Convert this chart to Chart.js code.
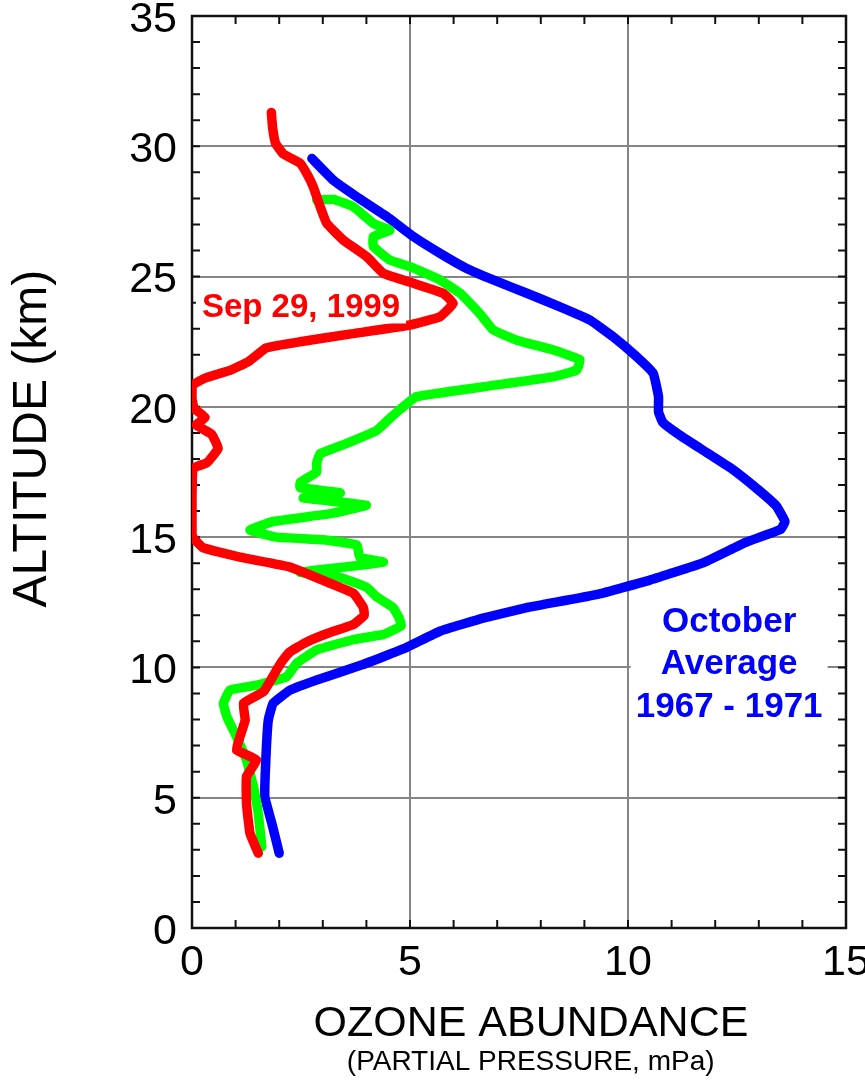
<!DOCTYPE html>
<html>
<head>
<meta charset="utf-8">
<title>Ozone profile</title>
<script src="https://cdn.jsdelivr.net/npm/chart.js@4.4.1/dist/chart.umd.min.js"></script>
<style>
  html, body { margin: 0; padding: 0; background: #fff; }
  #wrap { width: 865px; height: 1081px; position: relative; }
</style>
</head>
<body>
<div id="wrap"><canvas id="chart"></canvas></div>
<script>
// Ozone partial pressure (mPa) against altitude (km).
// Each profile is listed from the top of the sounding down.

const SEP99_OZONE = [1.82, 1.85, 1.92, 2.1, 2.48, 2.65, 2.78, 2.94, 3.09, 3.47, 4.01, 4.39, 5.08, 5.76, 5.99, 5.69, 5.0, 3.65, 2.48, 1.7,
  1.3, 0.9, 0.3, 0.02, 0.0, 0.05, 0.3, 0.1, 0.45, 0.6, 0.34, 0.03, 0.0, 0.0, 0.25, 1.1, 2.25, 3.17, 3.7, 3.93,
  3.95, 3.7, 3.1, 2.6, 2.25, 2.05, 1.94, 1.64, 1.18, 1.22, 1.1, 1.02, 1.48, 1.25, 1.25, 1.33, 1.52];
const SEP99_ALT = [31.3, 30.7, 30.1, 29.7, 29.35, 28.9, 28.45, 27.68, 27.04, 26.4, 25.76, 25.12, 24.74, 24.36, 23.97, 23.46, 23.14, 22.8, 22.5, 22.26,
  21.74, 21.42, 21.1, 20.84, 20.3, 19.94, 19.6, 19.3, 18.95, 18.4, 17.85, 17.65, 16.6, 15.05, 14.6, 14.23, 13.85, 13.23, 12.85, 12.3,
  12.0, 11.65, 11.3, 10.95, 10.6, 10.2, 9.9, 9.07, 8.62, 7.98, 7.34, 6.83, 6.45, 5.81, 4.78, 3.63, 2.87];

const GREEN_OZONE = [2.86, 3.24, 3.7, 4.16, 4.54, 4.16, 4.16, 4.54, 5.0, 5.69, 6.15, 6.6, 6.91, 7.45, 8.29, 8.9, 8.82, 8.28, 6.68, 5.15,
  4.8, 4.5, 4.24, 3.55, 2.94, 2.86, 2.86, 2.48, 2.48, 3.4, 2.55, 4.0, 3.17, 1.86, 1.33, 1.94, 3.0, 3.78, 3.85, 4.39,
  3.47, 2.48, 3.39, 4.0, 4.24, 4.61, 4.75, 4.8, 4.4, 3.7, 2.86, 2.4, 2.17, 1.48, 0.87, 0.72, 0.8, 1.02, 1.25, 1.41,
  1.52, 1.6];
const GREEN_ALT = [27.94, 27.96, 27.68, 27.04, 26.78, 26.53, 26.15, 25.63, 25.38, 24.87, 24.36, 23.58, 22.95, 22.56, 22.18, 21.8, 21.41, 21.15, 20.77, 20.39,
  19.94, 19.5, 19.1, 18.6, 18.2, 17.85, 17.5, 17.1, 16.9, 16.7, 16.5, 16.23, 15.9, 15.6, 15.27, 15.0, 14.9, 14.7, 14.23, 14.04,
  13.85, 13.65, 13.46, 13.08, 12.7, 12.3, 11.9, 11.6, 11.27, 11.07, 10.67, 10.16, 9.64, 9.32, 9.13, 8.62, 8.11, 7.34, 6.45, 5.42,
  4.4, 3.12];

const OCT_AVG_OZONE = [2.75, 3.24, 3.78, 4.47, 5.08, 5.69, 6.3, 6.91, 7.68, 8.44, 9.13, 9.66, 10.2, 10.58, 10.7, 10.7, 10.8, 11.2, 11.8, 12.4,
  13.0, 13.4, 13.6, 13.5, 12.7, 11.7, 10.5, 9.3, 7.7, 6.7, 5.7, 4.9, 3.9, 2.86, 2.25, 1.86, 1.75, 1.7, 1.67, 1.83,
  2.0];
const OCT_AVG_ALT = [29.53, 28.7, 28.06, 27.3, 26.53, 25.89, 25.31, 24.87, 24.36, 23.84, 23.33, 22.69, 21.92, 21.28, 20.39, 19.8, 19.4, 18.9, 18.25, 17.6,
  16.8, 16.2, 15.6, 15.3, 14.8, 14.0, 13.35, 12.8, 12.3, 11.9, 11.4, 10.75, 10.1, 9.52, 9.13, 8.62, 7.98, 6.7, 5.04, 4.02,
  2.87];

const SEP99_LABEL = 'Sep 29, 1999';
const OCT_LABEL = ['October', 'Average', '1967 - 1971'];

const X_MAX = 15, Y_MAX = 35, MAJOR = 5;
const FONT = '"Liberation Sans", Arial, Helvetica, sans-serif';

function points(xs, ys) {
  return xs.map((v, i) => ({ x: v, y: ys[i] }));
}

function profile(label, xs, ys, color) {
  return {
    label,
    data: points(xs, ys),
    borderColor: color,
    backgroundColor: color,
    borderWidth: 9.5,
    borderJoinStyle: 'round',
    borderCapStyle: 'round',
    pointRadius: 0,
    showLine: true,
    tension: 0.1,
  };
}

const gridColor = ctx => (ctx.tick && ctx.tick.value % MAJOR === 0) ? '#858585' : 'rgba(0,0,0,0)';
const majorOnly = v => (v % MAJOR === 0 ? String(v) : '');

// frame and the small inward ticks on all four sides
const frame = {
  id: 'frame',
  beforeDatasetsDraw(chart) {
    const { ctx, chartArea: a, scales: { x, y } } = chart;
    ctx.save();
    ctx.strokeStyle = '#111';
    ctx.lineWidth = 2;
    ctx.beginPath();
    for (let v = 1; v < X_MAX; v++) {
      const px = x.getPixelForValue(v);
      ctx.moveTo(px, a.bottom); ctx.lineTo(px, a.bottom - 8);
      ctx.moveTo(px, a.top); ctx.lineTo(px, a.top + 8);
    }
    for (let v = 1; v < Y_MAX; v++) {
      const py = y.getPixelForValue(v);
      ctx.moveTo(a.left, py); ctx.lineTo(a.left + 8, py);
      ctx.moveTo(a.right, py); ctx.lineTo(a.right - 8, py);
    }
    ctx.stroke();
    ctx.lineWidth = 2.5;
    ctx.strokeRect(a.left, a.top, a.right - a.left, a.bottom - a.top);
    ctx.restore();
  }
};

// in-plot labels on white boxes
const notes = {
  id: 'notes',
  afterDatasetsDraw(chart) {
    const { ctx, scales: { x, y } } = chart;
    ctx.save();
    ctx.textAlign = 'center';
    ctx.textBaseline = 'alphabetic';

    ctx.font = 'bold 33px ' + FONT;
    let cx = x.getPixelForValue(2.5), by = y.getPixelForValue(23.43);
    let w = ctx.measureText(SEP99_LABEL).width;
    ctx.fillStyle = '#fff';
    ctx.fillRect(cx - w / 2 - 6, by - 30, w + 12, 36);
    ctx.fillStyle = '#ff0000';
    ctx.fillText(SEP99_LABEL, cx, by);

    ctx.font = 'bold 35px ' + FONT;
    cx = x.getPixelForValue(12.32);
    const base = [11.36, 9.75, 8.10].map(v => y.getPixelForValue(v));
    w = Math.max(...OCT_LABEL.map(t => ctx.measureText(t).width));
    ctx.fillStyle = '#fff';
    ctx.fillRect(cx - w / 2 - 5, base[0] - 34, w + 10, base[2] - base[0] + 42);
    ctx.fillStyle = '#0000ff';
    OCT_LABEL.forEach((t, i) => ctx.fillText(t, cx, base[i]));
    ctx.restore();
  }
};

function noPad(scale) {
  scale.paddingLeft = scale.paddingRight = scale.paddingTop = scale.paddingBottom = 0;
}

new Chart(document.getElementById('chart'), {
  type: 'scatter',
  data: {
    datasets: [
      profile('Sep 29, 1999', SEP99_OZONE, SEP99_ALT, '#ff0000'),
      profile('Sep 29, 1999 (2)', GREEN_OZONE, GREEN_ALT, '#00ff00'),
      profile('October Average 1967 - 1971', OCT_AVG_OZONE, OCT_AVG_ALT, '#0000ff'),
    ],
  },
  options: {
    responsive: true,
    maintainAspectRatio: false,
    animation: false,
    layout: { padding: { top: 16, right: 19, left: 0, bottom: 0 } },
    plugins: { legend: { display: false }, tooltip: { enabled: false } },
    scales: {
      x: {
        type: 'linear', position: 'bottom', min: 0, max: X_MAX, weight: 0,
        ticks: { stepSize: 1, autoSkip: false, maxRotation: 0, callback: majorOnly, color: '#000', padding: 9,
                 font: { family: FONT, size: 43 } },
        grid: { color: gridColor, lineWidth: 2, drawTicks: false },
        border: { display: false },
        title: { display: true, text: '  OZONE ABUNDANCE', color: '#000', font: { family: FONT, size: 43 },
                 padding: { top: 0, bottom: 0 } },
        afterFit(s) { s.height = 122; noPad(s); },
      },
      x2: {
        type: 'linear', position: 'bottom', min: 0, max: X_MAX, weight: 1,
        ticks: { display: false },
        grid: { display: false, drawTicks: false },
        border: { display: false },
        title: { display: true, text: '   (PARTIAL PRESSURE, mPa)', color: '#000', font: { family: FONT, size: 28 },
                 padding: { top: 0, bottom: 2 } },
        afterFit(s) { s.height = 31; noPad(s); },
      },
      y: {
        type: 'linear', position: 'left', min: 0, max: Y_MAX,
        ticks: { stepSize: 1, autoSkip: false, callback: majorOnly, color: '#000', padding: 15, labelOffset: 4,
                 font: { family: FONT, size: 43 } },
        grid: { color: gridColor, lineWidth: 2, drawTicks: false },
        border: { display: false },
        title: { display: true, text: '     ALTITUDE (km)', color: '#000', font: { family: FONT, size: 48 },
                 padding: { top: 4, bottom: 0 } },
        afterFit(s) { s.width = 192; noPad(s); },
      },
    },
  },
  plugins: [frame, notes],
});
</script>
</body>
</html>
